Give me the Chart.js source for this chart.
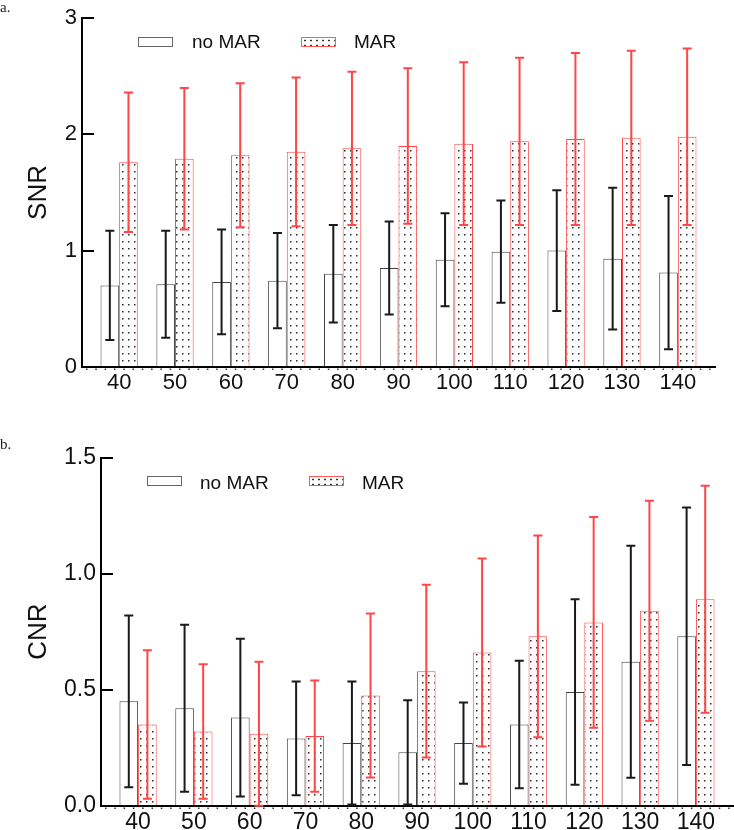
<!DOCTYPE html>
<html>
<head>
<meta charset="utf-8">
<script src="https://cdn.jsdelivr.net/npm/chart.js@4.4.0/dist/chart.umd.min.js"></script>
<style>
body { margin: 0; background: #fff; font-family: "Liberation Sans", Arial, sans-serif; }
#wrap { position: relative; width: 734px; height: 830px; overflow: hidden; }
.panel { position: absolute; left: 0; width: 734px; }
#p1 { top: 0; height: 400px; }
#p2 { top: 420px; height: 410px; }
.tag { position: absolute; left: 0; font-family: "Liberation Serif", "Times New Roman", serif; font-size: 15px; color: #222; line-height: 15px; }
.lg { position: absolute; font-size: 19px; color: #111; line-height: 20px; white-space: nowrap; }
.box { position: absolute; width: 33px; height: 8px; border: 1px solid #666; background: #fff; }
.box.dot { border-color: #ff5a5a; background-image: radial-gradient(circle, #333 0.8px, transparent 1.2px); background-size: 6px 5px; }
</style>
</head>
<body>
<div id="wrap">
	<div class="panel" id="p1"><canvas id="snr"></canvas></div>
	<div class="panel" id="p2"><canvas id="cnr"></canvas></div>

	<div class="tag" style="top:0px">a.</div>
	<div class="tag" style="top:437px">b.</div>

	<!-- legends -->
	<div class="box" style="left:138px;top:37px"></div>
	<div class="lg" style="left:192px;top:32px">no MAR</div>
	<div class="box dot" style="left:301px;top:37px"></div>
	<div class="lg" style="left:354px;top:32px">MAR</div>

	<div class="box" style="left:147px;top:476px"></div>
	<div class="lg" style="left:200px;top:473px">no MAR</div>
	<div class="box dot" style="left:309px;top:476px"></div>
	<div class="lg" style="left:362px;top:473px">MAR</div>
</div>

<script>
var doses = [40, 50, 60, 70, 80, 90, 100, 110, 120, 130, 140];

var snrNoMar   = [0.70, 0.71, 0.73, 0.74, 0.80, 0.85, 0.92, 0.99, 1.00, 0.93, 0.81];
var snrNoMarSd = [0.47, 0.46, 0.45, 0.41, 0.42, 0.40, 0.40, 0.44, 0.52, 0.61, 0.66];
var snrMar     = [1.76, 1.79, 1.82, 1.85, 1.88, 1.90, 1.92, 1.94, 1.96, 1.97, 1.98];
var snrMarSd   = [0.60, 0.61, 0.62, 0.64, 0.66, 0.67, 0.70, 0.72, 0.74, 0.75, 0.76];

var cnrNoMar   = [0.45, 0.42, 0.38, 0.29, 0.27, 0.23, 0.27, 0.35, 0.49, 0.62, 0.73];
var cnrNoMarSd = [0.37, 0.36, 0.34, 0.245, 0.265, 0.225, 0.175, 0.275, 0.40, 0.50, 0.555];
var cnrMar     = [0.35, 0.32, 0.31, 0.30, 0.475, 0.58, 0.66, 0.73, 0.79, 0.84, 0.89];
var cnrMarSd   = [0.32, 0.29, 0.31, 0.24, 0.353, 0.372, 0.405, 0.435, 0.454, 0.474, 0.489];

var RED = '#ff4545';

function toPoints(vals) {
	return vals.map(function(v, i) { return { x: doses[i], y: v }; });
}

function dotPattern() {
	var c = document.createElement('canvas');
	c.width = 6; c.height = 7;
	var g = c.getContext('2d');
	g.fillStyle = '#fff';
	g.fillRect(0, 0, 6, 7);
	g.fillStyle = '#2a2a2a';
	g.fillRect(2, 3, 1.5, 1.5);
	return g.createPattern(c, 'repeat');
}

// error bars, inward y ticks and the dotted strip under the x axis
var extras = {
	id: 'extras',
	afterDatasetsDraw: function(chart, args, opts) {
		var ctx = chart.ctx;
		var ys = chart.scales.y;
		ctx.save();
		ctx.lineWidth = 2;
		opts.sd.forEach(function(sd, i) {
			var meta = chart.getDatasetMeta(i);
			var vals = chart.data.datasets[i].data;
			ctx.strokeStyle = opts.colors[i];
			meta.data.forEach(function(bar, j) {
				var v = vals[j].y;
				var top = ys.getPixelForValue(v + sd[j]);
				var bot = ys.getPixelForValue(Math.max(0, v - sd[j]));
				var cap = 4.5;
				ctx.beginPath();
				ctx.moveTo(bar.x, top); ctx.lineTo(bar.x, bot);
				ctx.moveTo(bar.x - cap, top); ctx.lineTo(bar.x + cap, top);
				ctx.moveTo(bar.x - cap, bot); ctx.lineTo(bar.x + cap, bot);
				ctx.stroke();
			});
		});
		ctx.restore();
	},
	afterDraw: function(chart) {
		var ctx = chart.ctx;
		var ys = chart.scales.y;
		var area = chart.chartArea;
		ctx.save();
		ctx.strokeStyle = '#000';
		ctx.lineWidth = 2;
		ys.ticks.forEach(function(t) {
			var py = Math.round(ys.getPixelForValue(t.value));
			ctx.beginPath();
			ctx.moveTo(area.left, py);
			ctx.lineTo(area.left + 12, py);
			ctx.stroke();
		});
		ctx.strokeStyle = '#333';
		ctx.lineWidth = 1.5;
		ctx.setLineDash([1.5, 7.8]);
		ctx.beginPath();
		ctx.moveTo(area.left + 4, area.bottom + 2.5);
		ctx.lineTo(area.right, area.bottom + 2.5);
		ctx.stroke();
		ctx.restore();
	}
};

function makeChart(id, c) {
	return new Chart(document.getElementById(id), {
		type: 'bar',
		data: {
			datasets: [
				{ label: 'no MAR', data: toPoints(c.noMar), backgroundColor: '#fff', borderColor: '#444', borderWidth: 1, categoryPercentage: 0.667, barPercentage: 1 },
				{ label: 'MAR', data: toPoints(c.mar), backgroundColor: dotPattern(), borderColor: RED, borderWidth: 1, categoryPercentage: 0.667, barPercentage: 1 }
			]
		},
		options: {
			responsive: true,
			maintainAspectRatio: false,
			animation: false,
			layout: { padding: { top: c.padTop, right: c.padRight, left: 0, bottom: 0 } },
			plugins: {
				legend: { display: false },
				tooltip: { enabled: false },
				extras: { sd: [c.noMarSd, c.marSd], colors: ['#1a1a1a', RED] }
			},
			scales: {
				x: {
					type: 'linear',
					offset: false,
					min: doses[0] - 6.65,
					max: doses[doses.length - 1] + 6.65,
					afterBuildTicks: function(s) { s.ticks = doses.map(function(v) { return { value: v }; }); },
					afterFit: function(s) { s.height = c.xHeight; },
					grid: { drawOnChartArea: false, drawTicks: false },
					border: { color: '#000', width: 2 },
					ticks: { font: { size: c.font }, color: '#111', padding: 3, maxRotation: 0, autoSkip: false }
				},
				y: {
					min: 0,
					max: c.yMax,
					afterFit: function(s) { s.width = c.yWidth; },
					grid: { drawOnChartArea: false, drawTicks: false },
					border: { color: '#000', width: 2 },
					ticks: { stepSize: c.step, font: { size: c.font }, color: '#111', padding: 5, callback: c.fmt },
					title: { display: true, text: c.title, color: '#111', font: { size: 26 }, padding: { top: 23.5, bottom: 0 } }
				}
			}
		},
		plugins: [extras]
	});
}

makeChart('snr', {
	noMar: snrNoMar, noMarSd: snrNoMarSd, mar: snrMar, marSd: snrMarSd,
	yMax: 3, step: 1, title: 'SNR', font: 22,
	fmt: function(v) { return v; },
	padTop: 18, padRight: 19, xHeight: 33.3, yWidth: 82
});

makeChart('cnr', {
	noMar: cnrNoMar, noMarSd: cnrNoMarSd, mar: cnrMar, marSd: cnrMarSd,
	yMax: 1.5, step: 0.5, title: 'CNR', font: 23,
	fmt: function(v) { return v.toFixed(1); },
	padTop: 37.7, padRight: 1, xHeight: 24.3, yWidth: 101
});
</script>
</body>
</html>
